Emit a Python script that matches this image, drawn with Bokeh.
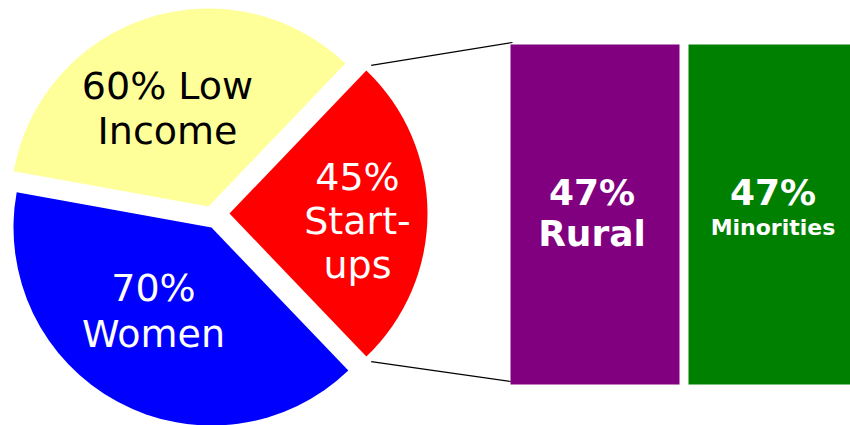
import numpy as np
from bokeh.plotting import figure
from bokeh.models import Range1d, ColumnDataSource
from bokeh.core.properties import value
from bokeh.embed import file_html
from bokeh.resources import INLINE

# ---------------- data ----------------
pie_categories = ["Start-ups", "Low Income", "Women"]
pie_values = [45, 60, 70]
pie_label_lines = [["45%", "Start-", "ups"], ["60% Low", "Income"], ["70%", "Women"]]

bar_categories = ["Rural", "Minorities"]
bar_values = [47, 47]
bar_label_pct = ["47%", "47%"]

# ---------------- styles / layout ----------------
pie_colors = ["#FF0000", "#FFFF99", "#0000FF"]
pie_text_colors = ["white", "black", "white"]
bar_colors = ["#800080", "#008000"]
FONT = "DejaVu Sans"
BASE_FIX = 0.36          # baseline correction (fraction of font size)

W, H = 850, 425
PAGE_H = 425

def py(y_page):          # page pixel y -> data y
    return PAGE_H - y_page

def tb(y_page, fs):      # baseline position corrected for renderer
    return py(y_page - BASE_FIX * fs)

p = figure(width=W, height=H, output_backend="svg", toolbar_location=None,
           x_range=Range1d(0, W), y_range=Range1d(PAGE_H - H, PAGE_H),
           x_axis_location=None, y_axis_location=None, min_border=0)
p.grid.visible = False
p.outline_line_color = None
p.background_fill_color = "white"
p.border_fill_color = "white"

# ---------------- pie ----------------
R = 198
center = (214, py(213))
explode = [(15, 0), (-6, 7), (-3, -14)]   # per-slice offset (px)
total = sum(pie_values)
angles = [v / total * 2 * np.pi for v in pie_values]
start = -angles[0] / 2
starts, ends = [], []
for a in angles:
    starts.append(start)
    ends.append(start + a)
    start += a

pie_src = ColumnDataSource(dict(
    x=[center[0] + e[0] for e in explode],
    y=[center[1] + e[1] for e in explode],
    start=starts, end=ends, color=pie_colors, cat=pie_categories, val=pie_values))
p.wedge(x="x", y="y", radius=R, start_angle="start", end_angle="end",
        fill_color="color", line_color=None, source=pie_src)

# pie labels (center x, first baseline page y, line gap)
PIE_FS = 38
label_pos = [(357, 190, 44), (167, 99, 45), (153, 301, 46)]
for lines, (lx, ly, gap), col in zip(pie_label_lines, label_pos, pie_text_colors):
    p.text(x=[lx] * len(lines), y=[tb(ly + i * gap, PIE_FS) for i in range(len(lines))],
           text=lines, text_font=value(FONT), text_font_size=f"{PIE_FS}px",
           text_color=col, text_align="center", text_baseline="alphabetic")

# ---------------- bars ----------------
bar_bottom_page, bar_top_page = 384, 44
scale = (py(bar_top_page) - py(bar_bottom_page)) / bar_values[0]
p.extra_y_ranges = {"bar": Range1d((p.y_range.start - py(bar_bottom_page)) / scale,
                                   (p.y_range.end - py(bar_bottom_page)) / scale)}
bar_w, bar_gap, bar_left0 = 169, 9, 510
lefts = [bar_left0 + i * (bar_w + bar_gap) for i in range(len(bar_values))]
bar_src = ColumnDataSource(dict(left=lefts, right=[l + bar_w for l in lefts],
                                top=bar_values, bottom=[0] * len(bar_values),
                                color=bar_colors, cat=bar_categories))
p.quad(left="left", right="right", top="top", bottom="bottom", fill_color="color",
       line_color=None, source=bar_src, y_range_name="bar")

centers = [l + bar_w / 2 - 3 * (i == 0) for i, l in enumerate(lefts)]
p.text(x=centers, y=[tb(205, 36)] * 2, text=bar_label_pct, text_font=value(FONT),
       text_font_style="bold", text_font_size="36px", text_color="white",
       text_align="center", text_baseline="alphabetic")
p.text(x=[centers[0]], y=[tb(246, 36)], text=[bar_categories[0]], text_font=value(FONT),
       text_font_style="bold", text_font_size="36px", text_color="white",
       text_align="center", text_baseline="alphabetic")
p.text(x=[centers[1]], y=[tb(235, 22)], text=[bar_categories[1]], text_font=value(FONT),
       text_font_style="bold", text_font_size="22px", text_color="white",
       text_align="center", text_baseline="alphabetic")

# ---------------- connector lines ----------------
rc = (center[0] + explode[0][0], center[1] + explode[0][1])
rr = R + 7
x_top = rc[0] + rr * np.cos(ends[0]);   y_top = rc[1] + rr * np.sin(ends[0])
x_bot = rc[0] + rr * np.cos(starts[0]); y_bot = rc[1] + rr * np.sin(starts[0])
p.segment(x0=[x_top, x_bot], y0=[y_top, y_bot], x1=[bar_left0 + 2, bar_left0],
          y1=[py(42), py(381)], line_color="black", line_width=1.2)

open("out.html", "w").write(file_html(p, INLINE))
